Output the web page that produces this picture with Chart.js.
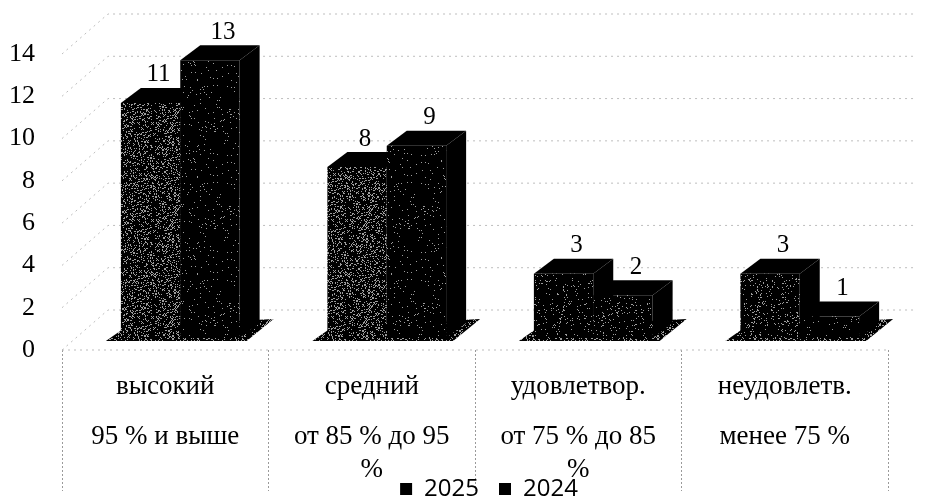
<!DOCTYPE html>
<html lang="ru">
<head>
<meta charset="UTF-8">
<title>Уровни</title>
<style>
    html, body { margin: 0; padding: 0; background: #fff; }
    #wrap { width: 933px; height: 498px; }
</style>
</head>
<body>
<div id="wrap"><canvas id="chart"></canvas></div>
<script src="https://cdn.jsdelivr.net/npm/chart.js"></script>
<script>
// blank entries keep the gap between the two lines of each label
const categories = [
    ['высокий', '', '', '95 % и выше'],
    ['средний', '', '', 'от 85 % до 95', '', '%'],
    ['удовлетвор.', '', '', 'от 75 % до 85', '', '%'],
    ['неудовлетв.', '', '', 'менее 75 %']
];
const values2025 = [11, 8, 3, 3];
const values2024 = [13, 9, 2, 1];
const seriesNames = ['2025', '2024'];

// speckle density of the scanned bars
const speckle2025 = [0.2, 0.2, 0.05, 0.08];
const speckle2024 = [0.03, 0.03, 0.06, 0.02];

const DEPTH_X = 20, DEPTH_Y = 15;   // 3d box offset of a bar
const BAR_SHIFT = 15;               // bars stand inside the floor, right of the category centre
const WALL_X = 46, WALL_Y = 40;     // back wall offset

// fixed stipple tile, black with grey dots
function stipple(density) {
    const c = document.createElement('canvas');
    c.width = c.height = 97;
    const g = c.getContext('2d');
    g.fillStyle = '#000';
    g.fillRect(0, 0, 97, 97);
    g.fillStyle = '#9c9c9c';
    for (let i = 0; i < 97; i++) {
        for (let j = 0; j < 97; j++) {
            if (((i * i * 31 + j * j * 17 + i * j * 7 + i * 3) % 97) / 97 < density) g.fillRect(i, j, 1, 1);
        }
    }
    return g.createPattern(c, 'repeat');
}

function shape(ctx, pts, fill) {
    ctx.beginPath();
    pts.forEach((p, i) => i ? ctx.lineTo(p[0], p[1]) : ctx.moveTo(p[0], p[1]));
    ctx.closePath();
    ctx.fillStyle = fill;
    ctx.fill();
}

const bars3d = {
    id: 'bars3d',
    afterLayout(chart) {
        // category labels run over the legend, as in the scan
        chart.scales.x.bottom = chart.height;
        chart.legend.top += 13;
        chart.legend.bottom += 13;
        chart.legend.left += 14;
        chart.legend.right += 14;
    },
    beforeDatasetsDraw(chart) {
        const ctx = chart.ctx, area = chart.chartArea, y = chart.scales.y;
        // wall and floor lines
        ctx.save();
        ctx.strokeStyle = '#bdbdbd';
        ctx.lineWidth = 1;
        ctx.setLineDash([2, 4]);
        y.ticks.forEach(t => {
            const py = y.getPixelForValue(t.value);
            ctx.beginPath();
            ctx.moveTo(area.left, py);
            ctx.lineTo(area.left + WALL_X, py - WALL_Y);
            ctx.lineTo(area.right + 29, py - WALL_Y);
            ctx.stroke();
        });
        ctx.beginPath();
        ctx.moveTo(area.left, y.getPixelForValue(0));
        ctx.lineTo(area.right, y.getPixelForValue(0));
        ctx.stroke();
        ctx.restore();

        const first = chart.getDatasetMeta(0).data, second = chart.getDatasetMeta(1).data;
        ctx.save();
        ctx.translate(BAR_SHIFT, 0);
        // floor plates under each group
        first.forEach((bar, i) => {
            const left = bar.x - bar.width / 2, right = second[i].x + second[i].width / 2, base = bar.base;
            shape(ctx, [[left - 15, base + 3], [right + 7, base + 3], [right + 34, base - 19], [left + 5, base - 11]], floorFill);
        });
        // tops and sides
        [second, first].forEach(bars => bars.forEach(bar => {
            const l = bar.x - bar.width / 2, r = bar.x + bar.width / 2;
            shape(ctx, [[l, bar.y], [l + DEPTH_X, bar.y - DEPTH_Y], [r + DEPTH_X, bar.y - DEPTH_Y], [r, bar.y]], '#000');
            shape(ctx, [[r, bar.y], [r + DEPTH_X, bar.y - DEPTH_Y], [r + DEPTH_X, bar.base - DEPTH_Y], [r, bar.base]], '#000');
        }));
        // the library draws the front faces in this shifted position
    },
    afterDatasetsDraw(chart) {
        const ctx = chart.ctx;
        ctx.restore();
        ctx.save();
        ctx.fillStyle = '#000';
        ctx.font = '25px "Liberation Serif"';
        ctx.textAlign = 'center';
        ctx.textBaseline = 'middle';
        chart.data.datasets.forEach((ds, d) => {
            chart.getDatasetMeta(d).data.forEach((bar, i) => {
                // a label beside a taller bar sits a little further left
                const nudge = d === 0 && values2024[i] > ds.data[i] ? 5 : 0;
                ctx.fillText(ds.data[i], bar.x + BAR_SHIFT + 13 - nudge, bar.y - DEPTH_Y - 13);
            });
        });
        ctx.restore();
    }
};

const floorFill = stipple(0.2);

new Chart(document.getElementById('chart'), {
    type: 'bar',
    data: {
        labels: categories,
        datasets: [
            { label: seriesNames[0], data: values2025, backgroundColor: speckle2025.map(stipple), yAxisID: 'yBars', clip: false },
            { label: seriesNames[1], data: values2024, backgroundColor: speckle2024.map(stipple), yAxisID: 'yBars', clip: false }
        ]
    },
    options: {
        responsive: true,
        maintainAspectRatio: false,
        animation: false,
        categoryPercentage: 0.575,
        barPercentage: 1,
        layout: { padding: { top: 54, right: 45, left: 0, bottom: 0 } },
        scales: {
            x: {
                border: { display: false },
                grid: {
                    drawOnChartArea: false,
                    tickLength: 141,
                    tickColor: '#9a9a9a',
                    tickBorderDash: [2, 2]
                },
                ticks: {
                    color: '#000',
                    font: { family: '"Liberation Serif"', size: 27, lineHeight: 0.61 },
                    maxRotation: 0,
                    autoSkip: false,
                    padding: -112
                },
                afterFit(scale) { scale.height = 94; }
            },
            y: {
                min: 0,
                max: 14,
                border: { display: false },
                grid: { display: false, drawTicks: false },
                ticks: {
                    stepSize: 2,
                    color: '#000',
                    font: { family: '"Liberation Serif"', size: 26 },
                    padding: 27
                },
                afterFit(scale) { scale.width = 62; }
            },
            // bars sit in the middle of the floor depth, so they get their own scale
            yBars: {
                display: false,
                min: -0.563,
                max: 13.29
            }
        },
        plugins: {
            legend: {
                position: 'bottom',
                fullSize: false,
                labels: {
                    color: '#000',
                    boxWidth: 12,
                    boxHeight: 12,
                    padding: 20,
                    font: { family: '"Open Sans"', size: 24 },
                    generateLabels(chart) {
                        return Chart.defaults.plugins.legend.labels.generateLabels(chart).map(item => {
                            item.fillStyle = '#000';
                            item.strokeStyle = '#000';
                            return item;
                        });
                    }
                }
            },
            tooltip: { enabled: false }
        }
    },
    plugins: [bars3d]
});
</script>
</body>
</html>
